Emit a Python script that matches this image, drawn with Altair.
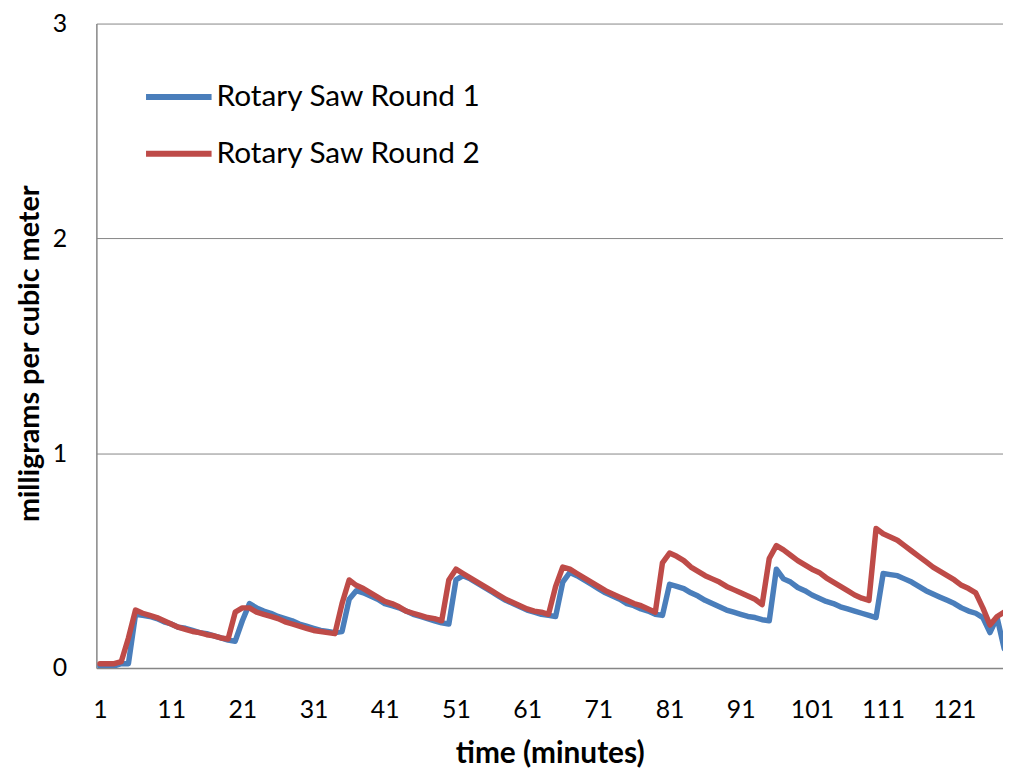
import altair as alt
import pandas as pd

minutes = list(range(1, 129))

round1 = [
    0.01, 0.01, 0.01, 0.02, 0.02, 0.25, 0.245, 0.24, 0.23, 0.215,
    0.205, 0.19, 0.185, 0.175, 0.165, 0.16, 0.15, 0.14, 0.13, 0.125,
    0.22, 0.30, 0.28, 0.265, 0.255, 0.24, 0.23, 0.22, 0.205, 0.195,
    0.185, 0.175, 0.17, 0.165, 0.17, 0.32, 0.36, 0.35, 0.335, 0.32,
    0.30, 0.29, 0.28, 0.265, 0.25, 0.24, 0.23, 0.22, 0.21, 0.205,
    0.41, 0.43, 0.415, 0.395, 0.375, 0.355, 0.335, 0.315, 0.30, 0.285,
    0.27, 0.26, 0.25, 0.245, 0.24, 0.40, 0.445, 0.43, 0.41, 0.39,
    0.37, 0.35, 0.335, 0.32, 0.30, 0.29, 0.275, 0.265, 0.25, 0.245,
    0.39, 0.38, 0.37, 0.35, 0.335, 0.315, 0.30, 0.285, 0.27, 0.26,
    0.25, 0.24, 0.235, 0.225, 0.22, 0.46, 0.415, 0.40, 0.375, 0.36,
    0.34, 0.325, 0.31, 0.30, 0.285, 0.275, 0.265, 0.255, 0.245, 0.235,
    0.44, 0.435, 0.43, 0.415, 0.40, 0.38, 0.36, 0.345, 0.33, 0.315,
    0.30, 0.28, 0.265, 0.255, 0.235, 0.165, 0.235, 0.09,
]

round2 = [
    0.02, 0.02, 0.02, 0.03, 0.14, 0.27, 0.255, 0.245, 0.235, 0.22,
    0.205, 0.19, 0.18, 0.17, 0.165, 0.155, 0.15, 0.14, 0.135, 0.26,
    0.28, 0.28, 0.26, 0.25, 0.24, 0.23, 0.215, 0.205, 0.195, 0.185,
    0.175, 0.17, 0.165, 0.16, 0.30, 0.41, 0.385, 0.37, 0.35, 0.33,
    0.31, 0.30, 0.285, 0.265, 0.255, 0.245, 0.235, 0.23, 0.22, 0.41,
    0.46, 0.44, 0.42, 0.40, 0.38, 0.36, 0.34, 0.32, 0.305, 0.29,
    0.275, 0.265, 0.26, 0.25, 0.38, 0.47, 0.46, 0.44, 0.42, 0.40,
    0.38, 0.36, 0.345, 0.33, 0.315, 0.30, 0.29, 0.275, 0.26, 0.49,
    0.535, 0.52, 0.50, 0.47, 0.45, 0.43, 0.415, 0.40, 0.38, 0.365,
    0.35, 0.335, 0.32, 0.295, 0.51, 0.57, 0.55, 0.525, 0.50, 0.48,
    0.46, 0.445, 0.42, 0.40, 0.38, 0.36, 0.34, 0.325, 0.315, 0.65,
    0.625, 0.61, 0.595, 0.57, 0.545, 0.52, 0.495, 0.47, 0.45, 0.43,
    0.41, 0.385, 0.37, 0.35, 0.28, 0.20, 0.24, 0.26,
]

series_names = ["Rotary Saw Round 1", "Rotary Saw Round 2"]
series_colors = ["#4A7EBB", "#BE4B48"]
x_ticks = list(range(1, 129, 10))
y_ticks = [0, 1, 2, 3]

rows = []
for name, vals in zip(series_names, [round1, round2]):
    for m, v in zip(minutes, vals):
        rows.append({"minute": m, "value": v, "series": name})
df = pd.DataFrame(rows)

FONT = "Lato"

chart = (
    alt.Chart(df)
    .mark_line(strokeWidth=5.5, strokeJoin="round", strokeCap="round", clip=True)
    .encode(
        x=alt.X(
            "minute:Q",
            scale=alt.Scale(domain=[0.5, 127.83], nice=False, zero=False),
            axis=alt.Axis(
                title="time (minutes)",
                values=x_ticks,
                grid=False,
                ticks=False,
                labelPadding=30,
                labelFontSize=25,
                labelFont=FONT,
                labelColor="#000000",
                labelFlush=False,
                titleFont=FONT,
                titleFontSize=30,
                titleFontWeight="bold",
                titleColor="#000000",
                titlePadding=16,
                domainColor="#868686",
                domainWidth=1.5,
            ),
        ),
        y=alt.Y(
            "value:Q",
            scale=alt.Scale(domain=[0, 3], nice=False),
            axis=alt.Axis(
                title="milligrams per cubic meter",
                values=y_ticks,
                format="d",
                grid=True,
                gridColor="#868686",
                gridWidth=1,
                ticks=False,
                labelPadding=30,
                labelFontSize=25,
                labelFont=FONT,
                labelColor="#000000",
                titleFont=FONT,
                titleFontSize=29,
                titleFontWeight="bold",
                titleColor="#000000",
                titlePadding=8,
                titleY=332,
                domainColor="#868686",
                domainWidth=1.5,
            ),
        ),
        color=alt.Color(
            "series:N",
            scale=alt.Scale(domain=series_names, range=series_colors),
            legend=alt.Legend(
                title=None,
                orient="none",
                legendX=47,
                legendY=38,
                symbolType="stroke",
                symbolSize=4356,
                symbolStrokeWidth=6,
                labelFont=FONT,
                labelFontSize=30,
                labelColor="#000000",
                labelLimit=0,
                labelOffset=2,
                rowPadding=6,
                padding=0,
            ),
        ),
    )
    .properties(
        width=913,
        height=649,
        autosize=alt.AutoSizeParams(type="none"),
        padding={"left": 89, "top": 13, "right": 0, "bottom": 98},
    )
    .configure_view(stroke=None)
)

chart.save("out.html", embed_options={"renderer": "svg", "actions": False})
